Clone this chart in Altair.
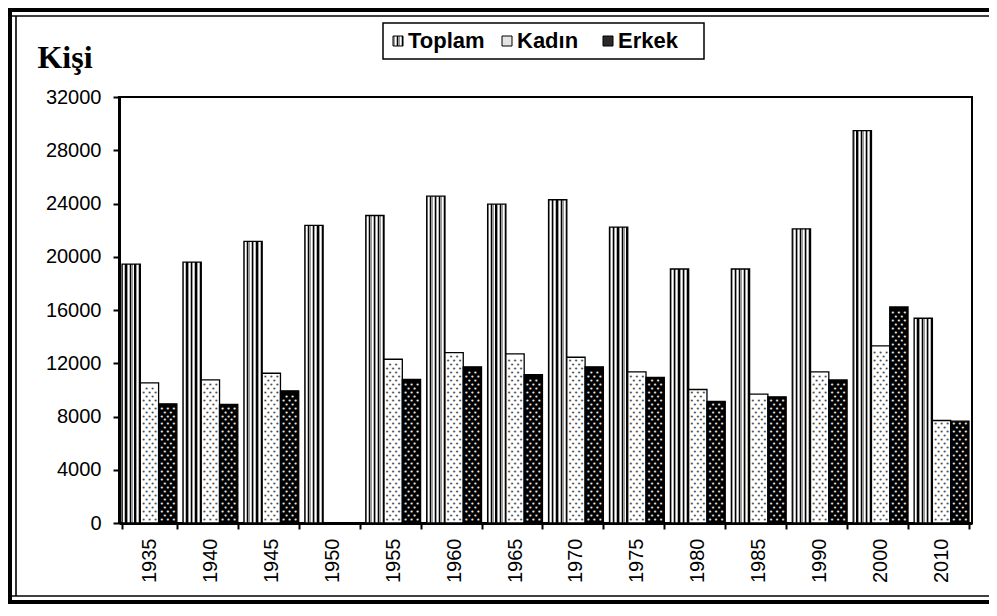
import altair as alt
import pandas as pd

# ---------------- data ----------------
years = ["1935", "1940", "1945", "1950", "1955", "1960", "1965",
         "1970", "1975", "1980", "1985", "1990", "2000", "2010"]
toplam = [19450, 19600, 21150, 22350, 23100, 24550, 23950,
          24280, 22230, 19080, 19080, 22100, 29480, 15380]
kadin = [10520, 10750, 11250, None, 12300, 12800, 12700,
         12450, 11350, 10030, 9680, 11350, 13300, 7700]
erkek = [8950, 8900, 9930, None, 10780, 11730, 11150,
         11730, 10930, 9130, 9480, 10750, 16230, 7650]
series_names = ["Toplam", "Kadın", "Erkek"]
y_tick_values = [0, 4000, 8000, 12000, 16000, 20000, 24000, 28000, 32000]
y_label = "Kişi"

rows = []
for i, yr in enumerate(years):
    for s, vals in zip(series_names, (toplam, kadin, erkek)):
        rows.append({"year": yr, "series": s, "value": vals[i]})
df = pd.DataFrame(rows)

# texture dots (decoration inside the Kadın / Erkek bars, derived from the values)
DOT_STEP = 300
dot_rows = []
for i, yr in enumerate(years):
    for s, vals in (("Kadın", kadin), ("Erkek", erkek)):
        v = vals[i]
        if v is None:
            continue
        yv, r = 200, 0
        while yv < v - 200:
            dot_rows.append({"year": yr, "series": s, "value": yv, "row": r % 2})
            yv += DOT_STEP
            r += 1
dots = pd.DataFrame(dot_rows)

# ---------------- layout ----------------
W, H = 853, 426
PAD = {"left": 111, "top": 89, "right": 17, "bottom": 81}
FONT = "Liberation Sans"


def stripes(periods):
    segs = [("#9a9a9a", 0.30), ("#ffffff", 0.22), ("#b8b8b8", 0.20), ("#000000", 0.28)]
    stops = []
    for p in range(periods):
        pos = p / periods
        for c, f in segs:
            end = pos + f / periods
            stops.append({"offset": round(pos, 5), "color": c})
            stops.append({"offset": round(min(end, 1.0), 5), "color": c})
            pos = end
    return {"gradient": "linear", "x1": 0, "y1": 0, "x2": 1, "y2": 0, "stops": stops}


x_enc = alt.X(
    "year:N",
    title=None,
    scale=alt.Scale(domain=years, paddingInner=0.1, paddingOuter=0.05),
    axis=alt.Axis(
        labelAngle=270, labelFont=FONT, labelFontSize=20, labelColor="black",
        labelPadding=9, tickBand="extent", tickSize=6, tickWidth=2, tickColor="black",
        domainColor="black", domainWidth=3, grid=False,
    ),
)
xoff_enc = alt.XOffset("series:N", scale=alt.Scale(domain=series_names, paddingInner=0, paddingOuter=0))
y_enc = alt.Y(
    "value:Q",
    title=None,
    scale=alt.Scale(domain=[0, 32000], nice=False, zero=True),
    axis=alt.Axis(
        values=y_tick_values, format="d", labelFont=FONT, labelFontSize=20,
        labelColor="black", labelPadding=12, tickSize=6, tickWidth=2, tickColor="black",
        domainColor="black", domainWidth=3, grid=False,
    ),
)

base = alt.Chart(df).encode(x=x_enc, xOffset=xoff_enc, y=y_enc)

fills = {"Toplam": stripes(4), "Kadın": "#ffffff", "Erkek": "#000000"}
bar_layers = [
    base.transform_filter(alt.datum.series == s).mark_bar(
        fill=fills[s], stroke="black", strokeWidth=1.3
    )
    for s in series_names
]

dot_base = alt.Chart(dots).encode(x=x_enc, xOffset=xoff_enc, y=y_enc)
dot_layers = []
for s, col in (("Kadın", "#505050"), ("Erkek", "#e8e8e8")):
    for parity, offsets in ((0, [-6, 0, 6]), (1, [-3, 3])):
        for dx in offsets:
            dot_layers.append(
                dot_base.transform_filter(
                    (alt.datum.series == s) & (alt.datum.row == parity)
                ).mark_text(text="•", font="DejaVu Sans", fontSize=7, color=col,
                            dx=dx, baseline="middle", align="center")
            )

one = alt.Data(values=[{"k": 1}])

# outer double frame: left, top and bottom sides (right side lies outside the picture)
RIGHT_END = 1000
def hline(y, w):
    return alt.Chart(one).mark_rule(color="black", strokeWidth=w).encode(
        x=alt.value(-111), x2=alt.value(RIGHT_END), y=alt.value(y))

def vline(x, w, y0, y1):
    return alt.Chart(one).mark_rule(color="black", strokeWidth=w).encode(
        x=alt.value(x), y=alt.value(y0), y2=alt.value(y1))

frame = [
    hline(-87, 4), hline(505, 4), vline(-109, 4, -89, 507),
    hline(-81, 1.6), hline(499, 1.6), vline(-103, 1.6, -81, 499),
]

# y title
ytitle = alt.Chart(one).mark_text(
    text=y_label, font="Liberation Serif", fontWeight="bold", fontSize=32,
    color="black", align="center", baseline="alphabetic",
).encode(x=alt.value(-54), y=alt.value(-29))

# manual boxed legend
legend = [
    alt.Chart(one).mark_rect(fill="white", stroke="black", strokeWidth=1.5).encode(
        x=alt.value(264), x2=alt.value(585), y=alt.value(-74), y2=alt.value(-38)),
]
sym_x = [274, 383, 484]
txt_x = [289, 398, 499]
sym_fill = [stripes(2), "#e4e4e4", "#2a2a2a"]
for s, sx, tx, f in zip(series_names, sym_x, txt_x, sym_fill):
    legend.append(
        alt.Chart(one).mark_rect(fill=f, stroke="black", strokeWidth=1).encode(
            x=alt.value(sx), x2=alt.value(sx + 10), y=alt.value(-61), y2=alt.value(-51))
    )
    legend.append(
        alt.Chart(one).mark_text(
            text=s, font=FONT, fontWeight="bold", fontSize=22, color="black",
            align="left", baseline="alphabetic",
        ).encode(x=alt.value(tx), y=alt.value(-49))
    )

chart = alt.layer(*bar_layers, *dot_layers, *frame, ytitle, *legend).properties(
    width=W, height=H,
    autosize=alt.AutoSizeParams(type="none"),
    padding=PAD,
    background="white",
).configure_view(stroke="black", strokeWidth=2)

chart.save("out.html", embed_options={"renderer": "svg", "actions": False})
